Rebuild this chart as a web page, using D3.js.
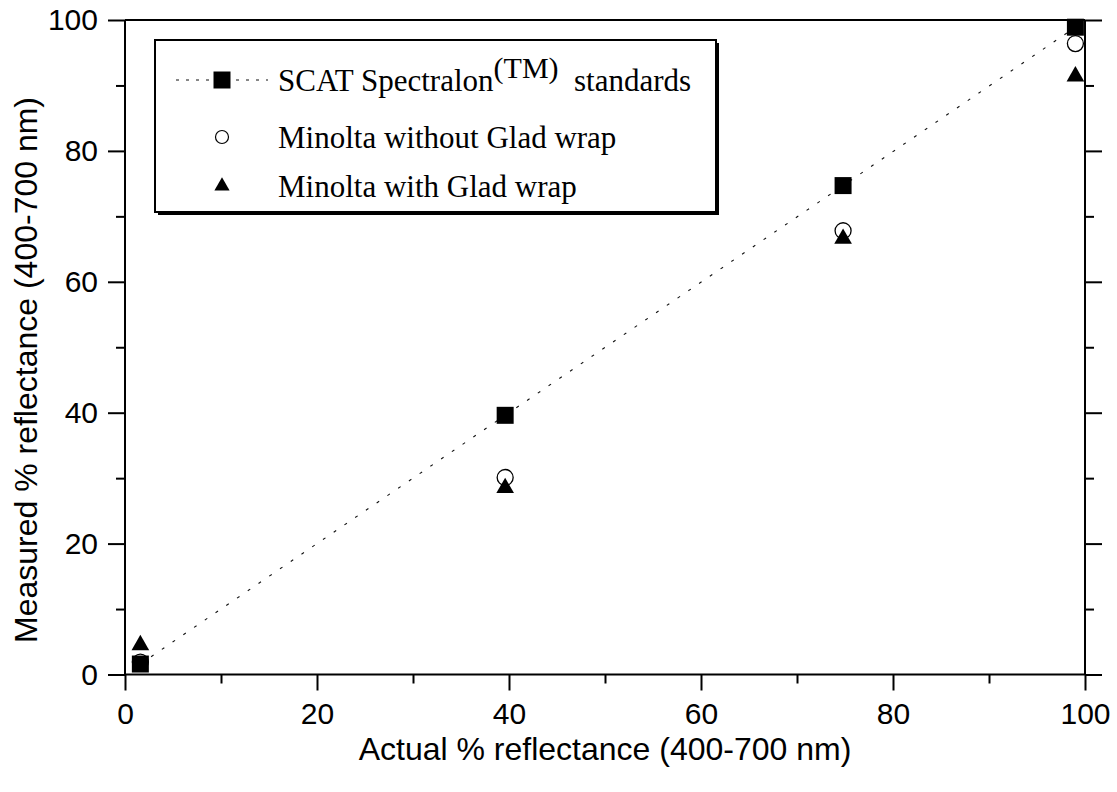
<!DOCTYPE html>
<html>
<head>
<meta charset="utf-8">
<script src="https://cdn.jsdelivr.net/npm/d3@7"></script>
<style>
  html, body { margin: 0; padding: 0; background: #fff; }
  svg { display: block; }
</style>
</head>
<body>
<svg id="chart" width="1117" height="792"></svg>
<script>
// Reflectance measurements (400-700 nm), in percent
const actual   = [1.6, 39.6, 74.8, 99.0];
const scat     = [1.6, 39.6, 74.7, 98.9];   // SCAT Spectralon standards
const noWrap   = [1.9, 30.1, 67.8, 96.4];   // Minolta without Glad wrap
const withWrap = [4.5, 28.5, 66.6, 91.4];   // Minolta with Glad wrap

const majorTicks = [0, 20, 40, 60, 80, 100];
const minorTicks = [10, 30, 50, 70, 90];

const xTitle = "Actual % reflectance (400-700 nm)";
const yTitle = "Measured % reflectance (400-700 nm)";

const legendLabels = [
  "SCAT Spectralon",
  "Minolta without Glad wrap",
  "Minolta with Glad wrap"
];

const svg = d3.select("#chart");

const plot = { left: 125, right: 1085, top: 20, bottom: 674.5 };
const x = d3.scaleLinear().domain([0, 100]).range([plot.left, plot.right]);
const y = d3.scaleLinear().domain([0, 100]).range([plot.bottom, plot.top]);

const sans = "Liberation Sans, Arial, sans-serif";
const serif = "Liberation Serif, Times New Roman, serif";
const lw = 2;

function styleAxis(g) {
  g.select(".domain").remove();
  g.selectAll(".tick line").attr("stroke", "#000").attr("stroke-width", lw);
  g.selectAll(".tick text").attr("fill", "#000");
}

// bottom axis: major + minor ticks, labels
svg.append("g")
  .attr("transform", `translate(0,${plot.bottom})`)
  .call(d3.axisBottom(x).tickValues(majorTicks).tickSize(16).tickPadding(12).tickFormat(d3.format("d")))
  .call(styleAxis)
  .call(g => g.selectAll(".tick text").attr("font-family", sans).attr("font-size", 30));
svg.append("g")
  .attr("transform", `translate(0,${plot.bottom})`)
  .call(d3.axisBottom(x).tickValues(minorTicks).tickSize(9).tickFormat(""))
  .call(styleAxis);

// left axis
svg.append("g")
  .attr("transform", `translate(${plot.left},0)`)
  .call(d3.axisLeft(y).tickValues(majorTicks).tickSize(17).tickPadding(10).tickFormat(d3.format("d")))
  .call(styleAxis)
  .call(g => g.selectAll(".tick text").attr("font-family", sans).attr("font-size", 30));
svg.append("g")
  .attr("transform", `translate(${plot.left},0)`)
  .call(d3.axisLeft(y).tickValues(minorTicks).tickSize(9).tickFormat(""))
  .call(styleAxis);

// right axis (outward ticks, no labels)
svg.append("g")
  .attr("transform", `translate(${plot.right},0)`)
  .call(d3.axisRight(y).tickValues(majorTicks).tickSize(17).tickFormat(""))
  .call(styleAxis);
svg.append("g")
  .attr("transform", `translate(${plot.right},0)`)
  .call(d3.axisRight(y).tickValues(minorTicks).tickSize(9).tickFormat(""))
  .call(styleAxis);

// frame
const frame = svg.append("g").attr("stroke", "#000").attr("stroke-width", lw).attr("fill", "none");
frame.append("line").attr("x1", x(0)).attr("x2", x(100)).attr("y1", y(0)).attr("y2", y(0));
frame.append("line").attr("x1", x(0)).attr("x2", x(100)).attr("y1", y(100)).attr("y2", y(100));
frame.append("line").attr("x1", x(0)).attr("x2", x(0)).attr("y1", y(0)).attr("y2", y(100));
frame.append("line").attr("x1", x(100)).attr("x2", x(100)).attr("y1", y(0)).attr("y2", y(100));

// axis titles
svg.append("text")
  .attr("x", (plot.left + plot.right) / 2)
  .attr("y", 760)
  .attr("text-anchor", "middle")
  .attr("font-family", sans)
  .attr("font-size", 32)
  .text(xTitle);
svg.append("text")
  .attr("transform", `translate(37,370) rotate(-90)`)
  .attr("text-anchor", "middle")
  .attr("font-family", sans)
  .attr("font-size", 32)
  .text(yTitle);

// series
const pts = (vals) => actual.map((a, i) => [a, vals[i]]);

svg.append("path")
  .datum(pts(scat))
  .attr("fill", "none")
  .attr("stroke", "#111")
  .attr("stroke-width", 1.1)
  .attr("stroke-dasharray", "3,10")
  .attr("d", d3.line().x(d => x(d[0])).y(d => y(d[1])));

svg.append("g").selectAll("circle")
  .data(pts(noWrap)).join("circle")
  .attr("cx", d => x(d[0])).attr("cy", d => y(d[1]))
  .attr("r", 8)
  .attr("fill", "#fff").attr("stroke", "#000").attr("stroke-width", 1.3);

const triSym = d3.symbol().type(d3.symbolTriangle).size(135);
svg.append("g").selectAll("path")
  .data(pts(withWrap)).join("path")
  .attr("transform", d => `translate(${x(d[0])},${y(d[1])})`)
  .attr("d", triSym)
  .attr("fill", "#000");

const sqSym = d3.symbol().type(d3.symbolSquare).size(289);
svg.append("g").selectAll("path")
  .data(pts(scat)).join("path")
  .attr("transform", d => `translate(${x(d[0])},${y(d[1])})`)
  .attr("d", sqSym)
  .attr("fill", "#000");

// legend
const lg = svg.append("g");
const box = { x: 155, y: 40, w: 561, h: 172 };
lg.append("rect")
  .attr("x", box.x + 3).attr("y", box.y + 3).attr("width", box.w).attr("height", box.h)
  .attr("fill", "#000");
lg.append("rect")
  .attr("x", box.x).attr("y", box.y).attr("width", box.w).attr("height", box.h)
  .attr("fill", "#fff").attr("stroke", "#000").attr("stroke-width", 2);

const rowY = [80, 137, 186];
const markX = 222;
const textX = 278;

lg.append("line")
  .attr("x1", 176).attr("x2", 268).attr("y1", rowY[0]).attr("y2", rowY[0])
  .attr("stroke", "#111").attr("stroke-width", 1.1).attr("stroke-dasharray", "3,7");
lg.append("path")
  .attr("transform", `translate(${markX},${rowY[0]})`)
  .attr("d", sqSym).attr("fill", "#000");
lg.append("circle")
  .attr("cx", markX).attr("cy", rowY[1]).attr("r", 6.5)
  .attr("fill", "#fff").attr("stroke", "#000").attr("stroke-width", 1.2);
lg.append("path")
  .attr("transform", `translate(${markX},${rowY[2]})`)
  .attr("d", d3.symbol().type(d3.symbolTriangle).size(100)).attr("fill", "#000");

const t0 = lg.append("text")
  .attr("x", textX).attr("y", rowY[0] + 11)
  .attr("font-family", serif).attr("font-size", 31)
  .attr("xml:space", "preserve");
t0.append("tspan").text(legendLabels[0]);
t0.append("tspan").attr("font-size", 30).attr("dy", -13).text("(TM)");
t0.append("tspan").attr("dy", 13).text("  standards");

lg.append("text")
  .attr("x", textX).attr("y", rowY[1] + 11)
  .attr("font-family", serif).attr("font-size", 31)
  .text(legendLabels[1]);
lg.append("text")
  .attr("x", textX).attr("y", rowY[2] + 11)
  .attr("font-family", serif).attr("font-size", 31)
  .text(legendLabels[2]);
</script>
</body>
</html>
